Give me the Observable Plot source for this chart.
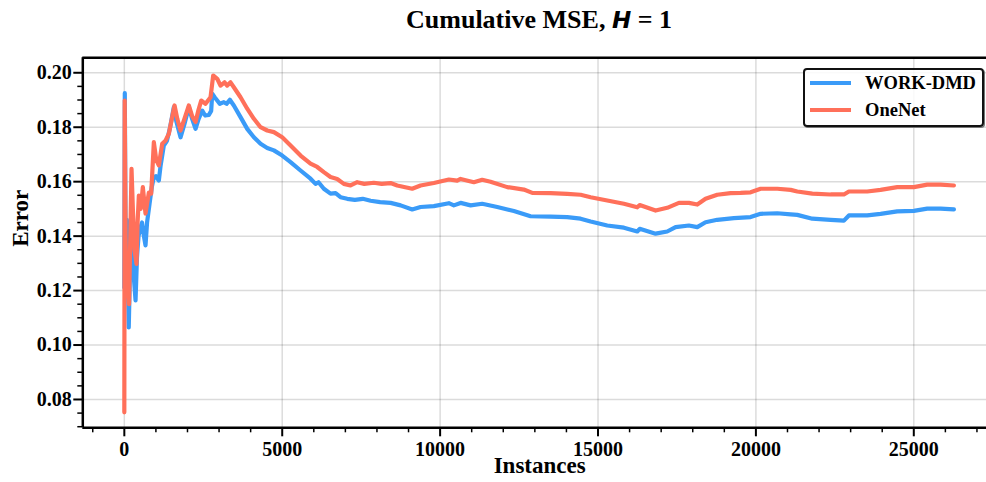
<!DOCTYPE html>
<html>
<head>
<meta charset="utf-8">
<script src="https://cdn.jsdelivr.net/npm/d3@7"></script>
<script src="https://cdn.jsdelivr.net/npm/@observablehq/plot@0.6"></script>
<style>
  html, body { margin: 0; padding: 0; background: #fff; overflow: hidden; }
  #wrap { position: relative; width: 986px; height: 482px; }
  #title {
    position: absolute; left: 539px; top: 0; height: 40px; line-height: 40px;
    transform: translateX(-50%); white-space: nowrap;
    font-family: "Liberation Serif", "Times New Roman", serif; font-weight: bold; font-size: 26px; color: #000;
  }
  #title .math { font-family: "DejaVu Sans", sans-serif; font-style: italic; font-weight: bold; font-size: 23px; }
  #chart { position: absolute; left: 0; top: 40px; }
  #legend {
    position: absolute; left: 803px; top: 68px; width: 177px; height: 55px;
    border: 2px solid #111; border-radius: 4px; background: rgba(255,255,255,0.85);
    box-shadow: 1px 1px 0 #777;
    font-family: "Liberation Serif", "Times New Roman", serif; font-weight: bold; font-size: 18.5px; color: #000;
  }
  #legend .row { position: absolute; left: 0; height: 24px; line-height: 24px; white-space: nowrap; }
  #legend .swatch { position: absolute; left: 5px; top: 10px; width: 41px; height: 4px; }
  #legend .lab { position: absolute; left: 60px; top: 0; }
</style>
</head>
<body>
<div id="wrap">
  <div id="title">Cumulative MSE, <span class="math">H</span> = 1</div>
  <div id="chart"></div>
  <div id="legend"></div>
</div>
<script>
// Cumulative MSE per instance, horizon H = 1
const seriesNames = ["WORK-DMD", "OneNet"];
const seriesColors = ["#3a9bf8", "#ff705a"];

const workInstances = [0, 15, 50, 80, 110, 140, 180, 218, 260, 300, 355, 400, 450, 513, 560, 620, 671, 720, 800, 870, 935, 1000, 1093, 1150, 1251, 1350, 1450, 1568, 1650, 1780, 1900, 2043, 2150, 2255, 2350, 2467, 2560, 2676, 2750, 2784, 2860, 2942, 3025, 3152, 3237, 3342, 3468, 3680, 3892, 4103, 4314, 4525, 4736, 5000, 5264, 5580, 5897, 6055, 6150, 6318, 6530, 6689, 6847, 7058, 7300, 7550, 7800, 8100, 8430, 8750, 9116, 9380, 9802, 10277, 10435, 10647, 10964, 11333, 11810, 12336, 12864, 13497, 14025, 14448, 14765, 15293, 15820, 16243, 16320, 16823, 17192, 17456, 17878, 18143, 18406, 18776, 19303, 19832, 20149, 20677, 21100, 21311, 21786, 22365, 22787, 22945, 23525, 23947, 24476, 25003, 25425, 25848, 26270];
const workError = [0.121, 0.1925, 0.118, 0.146, 0.125, 0.1065, 0.128, 0.1457, 0.135, 0.125, 0.1164, 0.132, 0.14, 0.1433, 0.145, 0.14, 0.1366, 0.145, 0.152, 0.158, 0.1617, 0.162, 0.1604, 0.166, 0.1733, 0.175, 0.18, 0.1874, 0.182, 0.1763, 0.181, 0.1874, 0.183, 0.1794, 0.183, 0.1861, 0.1843, 0.1845, 0.186, 0.1923, 0.191, 0.1898, 0.1886, 0.1892, 0.1886, 0.1901, 0.188, 0.1837, 0.1794, 0.1763, 0.1739, 0.1724, 0.1715, 0.1696, 0.1672, 0.1641, 0.1611, 0.1592, 0.1598, 0.1574, 0.1556, 0.1558, 0.1543, 0.1537, 0.1533, 0.1537, 0.153, 0.1525, 0.1522, 0.1513, 0.1498, 0.1507, 0.151, 0.1521, 0.1513, 0.1522, 0.1513, 0.1519, 0.1507, 0.1492, 0.1473, 0.1472, 0.147, 0.1464, 0.1454, 0.1439, 0.1431, 0.1417, 0.1427, 0.1409, 0.1417, 0.1433, 0.1439, 0.1433, 0.1451, 0.146, 0.1466, 0.147, 0.1482, 0.1484, 0.148, 0.1478, 0.1464, 0.146, 0.1457, 0.1476, 0.1476, 0.1482, 0.1491, 0.1493, 0.1501, 0.1501, 0.1498];

const oneInstances = [0, 12, 40, 70, 110, 150, 190, 228, 270, 320, 386, 420, 460, 520, 586, 671, 777, 851, 935, 1010, 1093, 1199, 1300, 1410, 1590, 1680, 1780, 1900, 2043, 2150, 2255, 2340, 2435, 2572, 2730, 2814, 2942, 3046, 3173, 3258, 3363, 3468, 3680, 3892, 4103, 4314, 4525, 4736, 5000, 5264, 5580, 5897, 6108, 6318, 6530, 6741, 6952, 7164, 7375, 7600, 7900, 8150, 8430, 8641, 9116, 9380, 9802, 10277, 10541, 10647, 11069, 11333, 11597, 12125, 12652, 12918, 13497, 14025, 14448, 14765, 15293, 15820, 16243, 16320, 16823, 17192, 17562, 17878, 18143, 18406, 18776, 19198, 19515, 19832, 20149, 20677, 21100, 21311, 21786, 22365, 22787, 22945, 23525, 23947, 24476, 25003, 25425, 25848, 26270];
const oneError = [0.0753, 0.1898, 0.14, 0.118, 0.125, 0.115, 0.14, 0.1647, 0.15, 0.135, 0.1298, 0.145, 0.1549, 0.15, 0.158, 0.1483, 0.156, 0.1556, 0.1745, 0.168, 0.166, 0.1739, 0.175, 0.1776, 0.188, 0.183, 0.1788, 0.183, 0.188, 0.184, 0.1819, 0.186, 0.1898, 0.1886, 0.191, 0.199, 0.1978, 0.1953, 0.1965, 0.1953, 0.1965, 0.1947, 0.191, 0.1868, 0.1831, 0.18, 0.1788, 0.1782, 0.1763, 0.1733, 0.1696, 0.1666, 0.1654, 0.1635, 0.1617, 0.161, 0.1592, 0.1586, 0.1598, 0.1592, 0.1596, 0.1592, 0.1595, 0.1586, 0.1574, 0.1586, 0.1595, 0.1608, 0.1604, 0.161, 0.1598, 0.1607, 0.16, 0.158, 0.1571, 0.1559, 0.1558, 0.1555, 0.1552, 0.1543, 0.1531, 0.1519, 0.1506, 0.1514, 0.1494, 0.1504, 0.1522, 0.1522, 0.1516, 0.1537, 0.1552, 0.1558, 0.1559, 0.1561, 0.1574, 0.1574, 0.157, 0.1564, 0.1556, 0.1553, 0.1553, 0.1564, 0.1564, 0.157, 0.158, 0.158, 0.1589, 0.1589, 0.1586];

// Axis ticks
const xMajorTicks = [0, 5000, 10000, 15000, 20000, 25000];
const xMinorTicks = d3.range(-1000, 27001, 1000).filter(v => v % 5000 !== 0);
const yMajorTicks = [0.08, 0.10, 0.12, 0.14, 0.16, 0.18, 0.20];
const yMinorTicks = d3.range(14, 41).map(k => k * 0.005).filter(v => Math.abs(v * 50 - Math.round(v * 50)) > 1e-6);

const xDomain = [-1315, 27619];
const yDomain = [0.0696, 0.2055];

const serif = '"Liberation Serif", "Times New Roman", serif';

const work = workInstances.map((x, i) => ({x, y: workError[i]}));
const one = oneInstances.map((x, i) => ({x, y: oneError[i]}));

const chart = Plot.plot({
  width: 986,
  height: 442,
  marginTop: 17.3,
  marginBottom: 54.7,
  marginLeft: 82.3,
  marginRight: 0,
  style: {fontFamily: serif, fontWeight: "bold", fontSize: "20px", background: "transparent", overflow: "visible", color: "#000"},
  x: {domain: xDomain, range: [82.3, 996]},
  y: {domain: yDomain},
  marks: [
    Plot.gridX(xMajorTicks, {stroke: "#000", strokeOpacity: 0.14, strokeWidth: 1.5}),
    Plot.gridY(yMajorTicks, {stroke: "#000", strokeOpacity: 0.14, strokeWidth: 1.5}),
    Plot.line(work, {x: "x", y: "y", stroke: seriesColors[0], strokeWidth: 4.2, strokeLinejoin: "round", strokeLinecap: "round"}),
    Plot.line(one, {x: "x", y: "y", stroke: seriesColors[1], strokeWidth: 4.2, strokeLinejoin: "round", strokeLinecap: "round"}),
    // tick marks (labels drawn separately below)
    Plot.axisX(xMinorTicks, {tickSize: 5, tickFormat: null, text: null, strokeWidth: 1.5, label: null}),
    Plot.axisX(xMajorTicks, {tickSize: 9, tickFormat: null, text: null, strokeWidth: 2, label: null}),
    Plot.axisY(yMinorTicks, {tickSize: 5, tickFormat: null, text: null, strokeWidth: 1.5, label: null}),
    Plot.axisY(yMajorTicks, {tickSize: 9, tickFormat: null, text: null, strokeWidth: 2, label: null}),
    // tick labels
    Plot.text(xMajorTicks, {x: d => d, frameAnchor: "bottom", dy: 28, text: d => String(d), fontSize: 20, fontWeight: "bold"}),
    Plot.text(yMajorTicks, {y: d => d, frameAnchor: "left", dx: -11, textAnchor: "end", text: d3.format(".2f"), fontSize: 20, fontWeight: "bold"}),
    // spines
    Plot.ruleY([yDomain[0]], {stroke: "#000", strokeWidth: 2.5}),
    Plot.ruleY([yDomain[1]], {stroke: "#000", strokeWidth: 2.5}),
    Plot.ruleX([xDomain[0]], {stroke: "#000", strokeWidth: 2.5}),
    // axis titles
    Plot.text(["Instances"], {frameAnchor: "bottom", dx: 5, dy: 45, fontSize: 23, fontWeight: "bold"}),
    Plot.text(["Error"], {frameAnchor: "left", dx: -62, dy: 4, rotate: -90, fontSize: 23, fontWeight: "bold"})
  ]
});
document.getElementById("chart").appendChild(chart);

// Legend
const legend = document.getElementById("legend");
seriesNames.forEach((name, i) => {
  const row = document.createElement("div");
  row.className = "row";
  row.style.top = (1 + i * 27) + "px";
  row.style.width = "177px";
  const sw = document.createElement("div");
  sw.className = "swatch";
  sw.style.background = seriesColors[i];
  const lab = document.createElement("div");
  lab.className = "lab";
  lab.textContent = name;
  row.appendChild(sw);
  row.appendChild(lab);
  legend.appendChild(row);
});
</script>
</body>
</html>
